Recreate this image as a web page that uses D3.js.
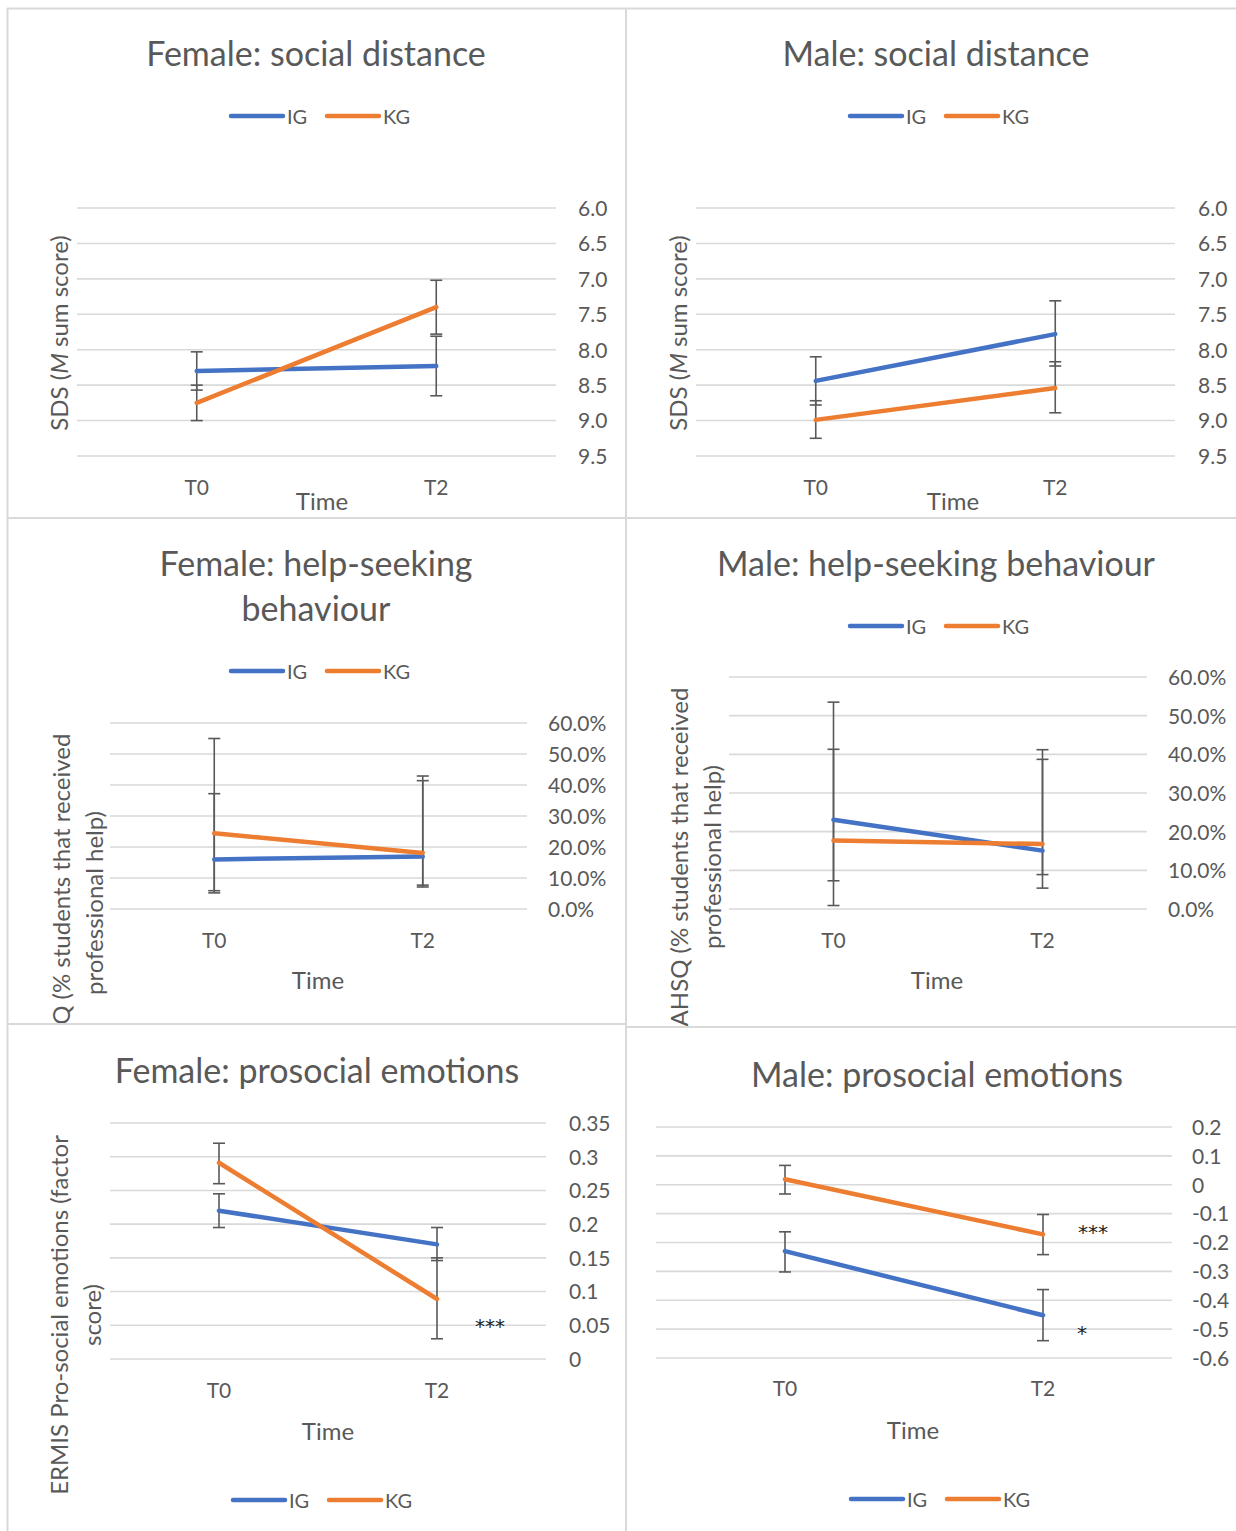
<!DOCTYPE html>
<html>
<head>
<meta charset="utf-8">
<script src="https://cdn.jsdelivr.net/npm/d3@7"></script>
<style>
  html, body { margin: 0; padding: 0; background: #fff; }
  svg { display: block; font-family: Lato, "Open Sans", sans-serif; }
</style>
</head>
<body>
<script>
// ---------------- DATA ----------------
const timePoints = ["T0", "T2"];
const groupNames = ["IG", "KG"];

// Social distance (SDS, M sum score) – reversed axis
const sdsTicks = [6.0, 6.5, 7.0, 7.5, 8.0, 8.5, 9.0, 9.5];
const femSdsIG = [8.30, 8.23];
const femSdsKG = [8.75, 7.40];
const femSdsIGErr = [[8.03, 8.57], [7.81, 8.65]];
const femSdsKGErr = [[8.50, 9.00], [7.02, 7.78]];
const maleSdsIG = [8.44, 7.78];
const maleSdsKG = [8.99, 8.54];
const maleSdsIGErr = [[8.10, 8.78], [7.31, 8.23]];
const maleSdsKGErr = [[8.72, 9.25], [8.17, 8.89]];

// Help-seeking (AHSQ, proportion that received professional help)
const ahsqTicks = [0, 0.1, 0.2, 0.3, 0.4, 0.5, 0.6];
const femAhsqIG = [0.160, 0.169];
const femAhsqKG = [0.244, 0.181];
const femAhsqIGErr = [[0.059, 0.372], [0.077, 0.414]];
const femAhsqKGErr = [[0.052, 0.550], [0.071, 0.429]];
const maleAhsqIG = [0.231, 0.151];
const maleAhsqKG = [0.177, 0.168];
const maleAhsqIGErr = [[0.073, 0.535], [0.054, 0.387]];
const maleAhsqKGErr = [[0.009, 0.413], [0.089, 0.412]];

// Prosocial emotions (ERMIS factor score)
const femErmisTicks = [0, 0.05, 0.1, 0.15, 0.2, 0.25, 0.3, 0.35];
const femErmisIG = [0.220, 0.170];
const femErmisKG = [0.291, 0.089];
const femErmisIGErr = [[0.195, 0.245], [0.146, 0.195]];
const femErmisKGErr = [[0.260, 0.320], [0.030, 0.150]];
const maleErmisTicks = [-0.6, -0.5, -0.4, -0.3, -0.2, -0.1, 0, 0.1, 0.2];
const maleErmisIG = [-0.230, -0.452];
const maleErmisKG = [0.019, -0.172];
const maleErmisIGErr = [[-0.302, -0.163], [-0.540, -0.363]];
const maleErmisKGErr = [[-0.032, 0.067], [-0.242, -0.103]];

// ---------------- STYLE ----------------
const COL = { IG: "#4472C4", KG: "#ED7D31" };
const TEXT = "#595959";
const GRID = "#D9D9D9";
const ERR = "#595959";

const svg = d3.select("body").append("svg")
  .attr("width", 1236).attr("height", 1531);

// panel frames
const frame = svg.append("g").attr("stroke", GRID).attr("stroke-width", 2).attr("fill", "none");
[[7, 8.5, 1236, 8.5], [7.5, 8, 7.5, 1531], [626, 8, 626, 1531],
 [7, 518, 1236, 518], [7, 1024, 626, 1024], [626, 1027, 1236, 1027]]
  .forEach(([x1, y1, x2, y2]) => frame.append("line").attr("x1", x1).attr("y1", y1).attr("x2", x2).attr("y2", y2));

const fmt1 = d3.format(".1f");
const fmtPct = d3.format(".1%");
const fmtNum = d => String(+(+d).toFixed(2));

function drawPanel(c) {
  const defs = svg.append("defs");
  defs.append("clipPath").attr("id", c.id)
    .append("rect").attr("x", c.clip[0]).attr("y", c.clip[1]).attr("width", c.clip[2]).attr("height", c.clip[3]);
  const g = svg.append("g").attr("clip-path", `url(#${c.id})`);

  const x = d3.scaleBand().domain(timePoints).range([c.x0, c.x1]);
  const y = d3.scaleLinear().domain(c.domain).range([c.yTop, c.yBot]);
  const cx = d => x(d) + x.bandwidth() / 2;

  // title
  c.title.forEach((t, i) => {
    g.append("text").attr("x", c.titleX).attr("y", c.titleY + i * 45)
      .attr("text-anchor", "middle").attr("dominant-baseline", "central")
      .attr("font-size", 34).attr("fill", TEXT).text(t);
  });

  // grid
  g.append("g").selectAll("line").data(c.ticks).join("line")
    .attr("x1", c.x0).attr("x2", c.x1)
    .attr("y1", d => y(d)).attr("y2", d => y(d))
    .attr("stroke", GRID).attr("stroke-width", 1.6);

  // right axis via d3 axis (labels only)
  const ax = g.append("g").attr("transform", `translate(${c.tickX},0)`)
    .call(d3.axisRight(y).tickValues(c.ticks).tickFormat(c.fmt).tickSize(0).tickPadding(0));
  ax.select(".domain").remove();
  ax.selectAll("text").attr("font-size", 21).attr("fill", TEXT)
    .attr("font-family", "Lato, sans-serif").attr("dy", "0.35em").attr("text-anchor", "start");

  // bottom category axis
  const bx = g.append("g").attr("transform", `translate(0,${c.catY})`)
    .call(d3.axisBottom(x).tickSize(0).tickPadding(0));
  bx.select(".domain").remove();
  bx.selectAll("text").attr("font-size", 21).attr("fill", TEXT)
    .attr("font-family", "Lato, sans-serif").attr("dy", "0.35em");

  // x title
  g.append("text").attr("x", c.timeX).attr("y", c.timeY)
    .attr("text-anchor", "middle").attr("dominant-baseline", "central")
    .attr("font-size", 24).attr("fill", TEXT).text("Time");

  // y title
  if (c.yTitle) {
    c.yTitle.lines.forEach((parts, i) => {
      const t = g.append("text")
        .attr("transform", `translate(${c.yTitle.x + i * 33},${c.yTitle.y}) rotate(-90)`)
        .attr("text-anchor", "middle").attr("dominant-baseline", "central")
        .attr("font-size", 24).attr("fill", TEXT);
      parts.forEach(p => {
        const s = t.append("tspan").text(p.t);
        if (p.i) s.attr("font-style", "italic");
      });
    });
  }

  const series = [
    { name: "IG", vals: c.ig, err: c.igErr },
    { name: "KG", vals: c.kg, err: c.kgErr }
  ];

  // error bars
  series.forEach(s => {
    const eg = g.append("g").attr("stroke", ERR).attr("stroke-width", 1.6);
    s.err.forEach((e, i) => {
      const px = cx(timePoints[i]);
      eg.append("line").attr("x1", px).attr("x2", px).attr("y1", y(e[0])).attr("y2", y(e[1]));
      e.forEach(v => eg.append("line").attr("x1", px - 6).attr("x2", px + 6).attr("y1", y(v)).attr("y2", y(v)));
    });
  });

  // lines
  const line = d3.line().x((d, i) => cx(timePoints[i])).y(d => y(d));
  series.forEach(s => {
    g.append("path").datum(s.vals).attr("d", line)
      .attr("fill", "none").attr("stroke", COL[s.name])
      .attr("stroke-width", 4.5).attr("stroke-linecap", "round");
  });

  // significance stars
  (c.stars || []).forEach(st => {
    g.append("text").attr("x", st.x).attr("y", st.y).attr("text-anchor", "middle")
      .attr("dominant-baseline", "central").attr("font-size", 20).attr("fill", "#222")
      .attr("font-family", "DejaVu Sans, sans-serif").text(st.t);
  });

  // legend
  groupNames.forEach((nm, i) => {
    const lx = c.legX + i * 96;
    g.append("line").attr("x1", lx).attr("x2", lx + 52).attr("y1", c.legY).attr("y2", c.legY)
      .attr("stroke", COL[nm]).attr("stroke-width", 4.5).attr("stroke-linecap", "round");
    g.append("text").attr("x", lx + 56).attr("y", c.legY).attr("dominant-baseline", "central")
      .attr("font-size", 20).attr("fill", TEXT).text(nm);
  });
}

const sdsTitle = { lines: [[{ t: "SDS (" }, { t: "M", i: true }, { t: " sum score)" }]] };

drawPanel({
  id: "c1", clip: [8, 9, 618, 509],
  title: ["Female: social distance"], titleX: 316, titleY: 52,
  legX: 231, legY: 116,
  x0: 77, x1: 556, yTop: 208, yBot: 456, domain: [6, 9.5],
  ticks: sdsTicks, fmt: fmt1, tickX: 578, catY: 488, timeX: 322, timeY: 500,
  yTitle: Object.assign({ x: 58, y: 333 }, sdsTitle),
  ig: femSdsIG, kg: femSdsKG, igErr: femSdsIGErr, kgErr: femSdsKGErr
});
drawPanel({
  id: "c2", clip: [627, 9, 609, 509],
  title: ["Male: social distance"], titleX: 936, titleY: 52,
  legX: 850, legY: 116,
  x0: 696, x1: 1175, yTop: 208, yBot: 456, domain: [6, 9.5],
  ticks: sdsTicks, fmt: fmt1, tickX: 1198, catY: 488, timeX: 953, timeY: 500,
  yTitle: Object.assign({ x: 677, y: 333 }, sdsTitle),
  ig: maleSdsIG, kg: maleSdsKG, igErr: maleSdsIGErr, kgErr: maleSdsKGErr
});

const ahsqLines = [[{ t: "AHSQ (% students that received" }], [{ t: "professional help)" }]];
drawPanel({
  id: "c3", clip: [8, 519, 618, 504],
  title: ["Female: help-seeking", "behaviour"], titleX: 316, titleY: 562,
  legX: 231, legY: 671,
  x0: 110, x1: 527, yTop: 723, yBot: 909, domain: [0.6, 0],
  ticks: ahsqTicks, fmt: fmtPct, tickX: 548, catY: 941, timeX: 318, timeY: 979,
  yTitle: { x: 60, y: 903, lines: ahsqLines },
  ig: femAhsqIG, kg: femAhsqKG, igErr: femAhsqIGErr, kgErr: femAhsqKGErr
});
drawPanel({
  id: "c4", clip: [627, 519, 609, 507],
  title: ["Male: help-seeking behaviour"], titleX: 936, titleY: 562,
  legX: 850, legY: 626,
  x0: 729, x1: 1147, yTop: 677, yBot: 909, domain: [0.6, 0],
  ticks: ahsqTicks, fmt: fmtPct, tickX: 1168, catY: 941, timeX: 937, timeY: 979,
  yTitle: { x: 678, y: 857, lines: ahsqLines },
  ig: maleAhsqIG, kg: maleAhsqKG, igErr: maleAhsqIGErr, kgErr: maleAhsqKGErr
});
drawPanel({
  id: "c5", clip: [8, 1025, 618, 506],
  title: ["Female: prosocial emotions"], titleX: 317, titleY: 1069,
  legX: 233, legY: 1500,
  x0: 110, x1: 546, yTop: 1123, yBot: 1359, domain: [0.35, 0],
  ticks: femErmisTicks, fmt: fmtNum, tickX: 569, catY: 1391, timeX: 328, timeY: 1430,
  yTitle: { x: 58, y: 1315, lines: [[{ t: "ERMIS Pro-social emotions (factor" }], [{ t: "score)" }]] },
  stars: [{ x: 490, y: 1326, t: "***" }],
  ig: femErmisIG, kg: femErmisKG, igErr: femErmisIGErr, kgErr: femErmisKGErr
});
drawPanel({
  id: "c6", clip: [627, 1028, 609, 503],
  title: ["Male: prosocial emotions"], titleX: 937, titleY: 1073,
  legX: 851, legY: 1499,
  x0: 656, x1: 1172, yTop: 1127, yBot: 1358, domain: [0.2, -0.6],
  ticks: maleErmisTicks, fmt: fmtNum, tickX: 1192, catY: 1389, timeX: 913, timeY: 1429,
  yTitle: null,
  stars: [{ x: 1093, y: 1232, t: "***" }, { x: 1082, y: 1333, t: "*" }],
  ig: maleErmisIG, kg: maleErmisKG, igErr: maleErmisIGErr, kgErr: maleErmisKGErr
});
</script>
</body>
</html>
